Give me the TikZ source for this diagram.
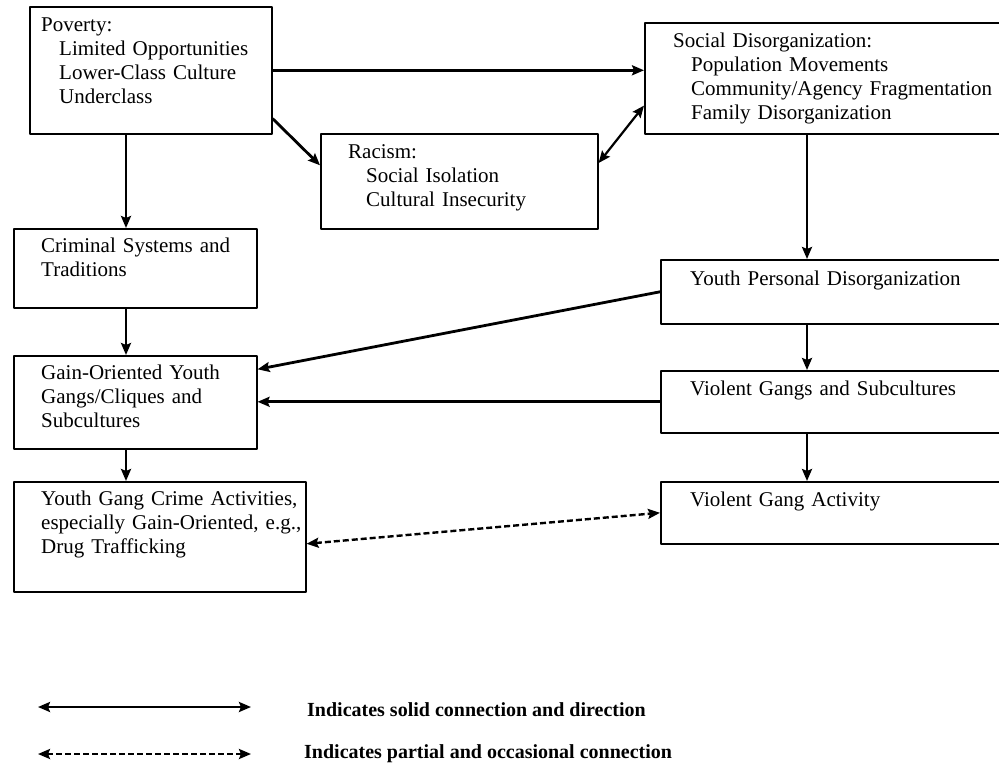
\documentclass[tikz,border=0pt]{standalone}
\usepackage{fontspec}
\setmainfont{Liberation Serif}
\usetikzlibrary{arrows.meta}
\begin{document}
\begin{tikzpicture}[x=1pt, y=-1pt, line join=round, >={Stealth[length=12pt,width=10pt,inset=2pt]},
	box/.style={draw, line width=1.6pt, anchor=north west, inner sep=0pt},
	txt/.style={anchor=base west, inner sep=0pt, text width=330pt, align=left, font=\fontsize{21}{24}\selectfont},
	conn/.style={->, line width=2.8pt},
	part/.style={<->, line width=2.4pt, dash pattern=on 6pt off 3pt},
	key/.style={anchor=base west, inner sep=0pt, font=\fontsize{20}{24}\selectfont\bfseries}]
	\useasboundingbox (0,0) rectangle (999,765);
	\clip (0,0) rectangle (999,765);
	\def\ind{\hspace*{18pt}}
	\foreach \n/\x/\y/\w/\h in {pov/29/6/242/127, soc/644/22/360/111, rac/320/133/277/95, crim/13/228/243/79, gain/13/355/243/93, ygc/13/481/292/110, ypd/660/259/345/64, vg/660/370/345/62, vga/660/481/345/62}
	\node[box, minimum width=\w pt, minimum height=\h pt] (\n) at (\x,\y) {};
	\node[txt] (povt) at ([shift={(12pt,-26pt)}]pov.north west) {Poverty:\\\ind Limited Opportunities\\\ind Lower-Class Culture\\\ind Underclass};
	\node[txt] (soct) at ([shift={(29pt,-26pt)}]soc.north west) {Social Disorganization:\\\ind Population Movements\\\ind Community/Agency Fragmentation\\\ind Family Disorganization};
	\node[txt] (ract) at ([shift={(28pt,-26pt)}]rac.north west) {Racism:\\\ind Social Isolation\\\ind Cultural Insecurity};
	\node[txt] (crimt) at ([shift={(28pt,-24pt)}]crim.north west) {Criminal Systems and\\Traditions};
	\node[txt] (gaint) at ([shift={(28pt,-24pt)}]gain.north west) {Gain-Oriented Youth\\Gangs/Cliques and\\Subcultures};
	\node[txt] (ygct) at ([shift={(28pt,-24pt)}]ygc.north west) {Youth Gang Crime Activities,\\especially Gain-Oriented, e.g.,\\Drug Trafficking};
	\node[txt] (ypdt) at ([shift={(30pt,-26pt)}]ypd.north west) {Youth Personal Disorganization};
	\node[txt] (vgt) at ([shift={(30pt,-25pt)}]vg.north west) {Violent Gangs and Subcultures};
	\node[txt] (vgat) at ([shift={(30pt,-25pt)}]vga.north west) {Violent Gang Activity};
	\coordinate (colL) at (126,0);
	\coordinate (colR) at (807,0);
	\foreach \a/\b in {pov/crim, crim/gain, gain/ygc} \draw[conn] (\a.south -| colL) -- (\b.north -| colL);
	\foreach \a/\b in {soc/ypd, ypd/vg, vg/vga} \draw[conn] (\a.south -| colR) -- (\b.north -| colR);
	\draw[conn] (pov.east) -- (pov.east -| soc.west);
	\draw[conn] ([yshift=16pt]pov.south east) -- ([yshift=16pt]rac.west);
	\draw[<->, line width=2.2pt] ([yshift=-30pt]rac.north east) -- ([yshift=29pt]soc.south west);
	\draw[conn] (ypd.west) -- ([yshift=33pt]gain.east);
	\draw[conn] (vg.west) -- (vg.west -| gain.east);
	\draw[part] ([yshift=-7pt]ygc.east) -- (vga.west);
	% key
	\coordinate (solA) at (38,707); \coordinate (solB) at (251,707);
	\coordinate (dshA) at (38,754); \coordinate (dshB) at (251,754);
	\draw[<->, line width=2.6pt] (solA) -- (solB);
	\draw[part] (dshA) -- (dshB);
	\node[key] (solkey) at (307,716) {Indicates solid connection and direction};
	\node[key] (dshkey) at (304,758) {Indicates partial and occasional connection};
\end{tikzpicture}
\end{document}
